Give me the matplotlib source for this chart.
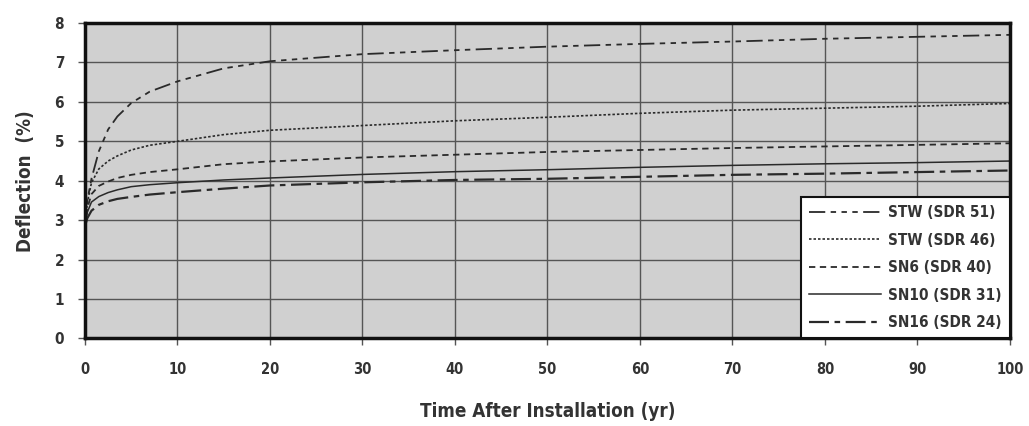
import matplotlib
matplotlib.use("Agg")
import matplotlib.pyplot as plt

# ---- data ----
years = [0, 0.25, 0.7, 1.5, 2.5, 3.5, 5, 7, 10, 15, 20, 30, 40, 50, 60, 70, 80, 90, 100]
stw_sdr51 = [2.85, 3.5, 4.05, 4.75, 5.3, 5.63, 5.97, 6.26, 6.52, 6.85, 7.03, 7.21, 7.31, 7.40, 7.47, 7.53, 7.60, 7.65, 7.70]
stw_sdr46 = [2.85, 3.45, 3.95, 4.3, 4.5, 4.63, 4.78, 4.9, 5.0, 5.17, 5.28, 5.40, 5.52, 5.61, 5.71, 5.79, 5.84, 5.89, 5.96]
sn6_sdr40 = [2.85, 3.3, 3.66, 3.87, 3.98, 4.07, 4.15, 4.22, 4.29, 4.42, 4.49, 4.59, 4.66, 4.73, 4.78, 4.83, 4.87, 4.91, 4.95]
sn10_sdr31 = [2.85, 3.2, 3.46, 3.6, 3.7, 3.77, 3.85, 3.9, 3.95, 4.02, 4.07, 4.16, 4.23, 4.28, 4.34, 4.39, 4.43, 4.46, 4.50]
sn16_sdr24 = [2.85, 3.05, 3.24, 3.39, 3.48, 3.54, 3.59, 3.65, 3.71, 3.80, 3.88, 3.96, 4.02, 4.05, 4.10, 4.15, 4.18, 4.22, 4.26]
labels = ["STW (SDR 51)", "STW (SDR 46)", "SN6 (SDR 40)", "SN10 (SDR 31)", "SN16 (SDR 24)"]
x_ticks = [0, 10, 20, 30, 40, 50, 60, 70, 80, 90, 100]
y_ticks = [0, 1, 2, 3, 4, 5, 6, 7, 8]

plt.rcParams["font.family"] = ["DejaVu Sans"]
plt.rcParams["font.stretch"] = "condensed"
plt.rcParams["font.weight"] = "bold"

fig = plt.figure(figsize=(10.29, 4.26), dpi=100)
ax = fig.add_axes([0.0826, 0.2054, 0.8989, 0.7406])
ax.set_facecolor("#d0d0d0")

lc = "#2a2a2a"
ax.plot(years, stw_sdr51, color=lc, lw=1.3, dashes=[9, 3, 3, 3, 3, 3, 3, 3], label=labels[0])
ax.plot(years, stw_sdr46, color=lc, lw=1.2, dashes=[1.5, 1.2], label=labels[1])
ax.plot(years, sn6_sdr40, color=lc, lw=1.3, dashes=[3.5, 2.5], label=labels[2])
ax.plot(years, sn10_sdr31, color=lc, lw=1.1, label=labels[3])
ax.plot(years, sn16_sdr24, color=lc, lw=1.6, dashes=[9, 2.5, 2.5, 2.5], label=labels[4])

ax.set_xlim(0, 100)
ax.set_ylim(0, 8)
ax.set_xticks(x_ticks)
ax.set_yticks(y_ticks)
ax.grid(True, color="#555555", lw=1.0)
ax.set_axisbelow(True)
for s in ax.spines.values():
    s.set_linewidth(2.5)
    s.set_color("#111111")
ax.tick_params(axis="x", direction="out", length=5, width=1, color="#555555", pad=12, labelsize=10.5, labelcolor="#333333")
ax.tick_params(axis="y", direction="out", length=5, width=1, color="#555555", pad=10, labelsize=11, labelcolor="#333333")

ax.set_xlabel("Time After Installation (yr)", fontsize=13.5, fontweight="bold", color="#333333", labelpad=18)
ax.set_ylabel("Deflection  (%)", fontsize=13.5, fontweight="bold", color="#333333", labelpad=14)

leg = ax.legend(loc="lower right", borderaxespad=0, fancybox=False, framealpha=1,
                edgecolor="#111111", fontsize=11, handlelength=4.7, labelspacing=0.82,
                borderpad=0.55, handletextpad=0.45)
leg.get_frame().set_linewidth(1.5)
for t in leg.get_texts():
    t.set_color("#333333")
    t.set_fontweight("bold")

fig.savefig("out.png", dpi=100)
